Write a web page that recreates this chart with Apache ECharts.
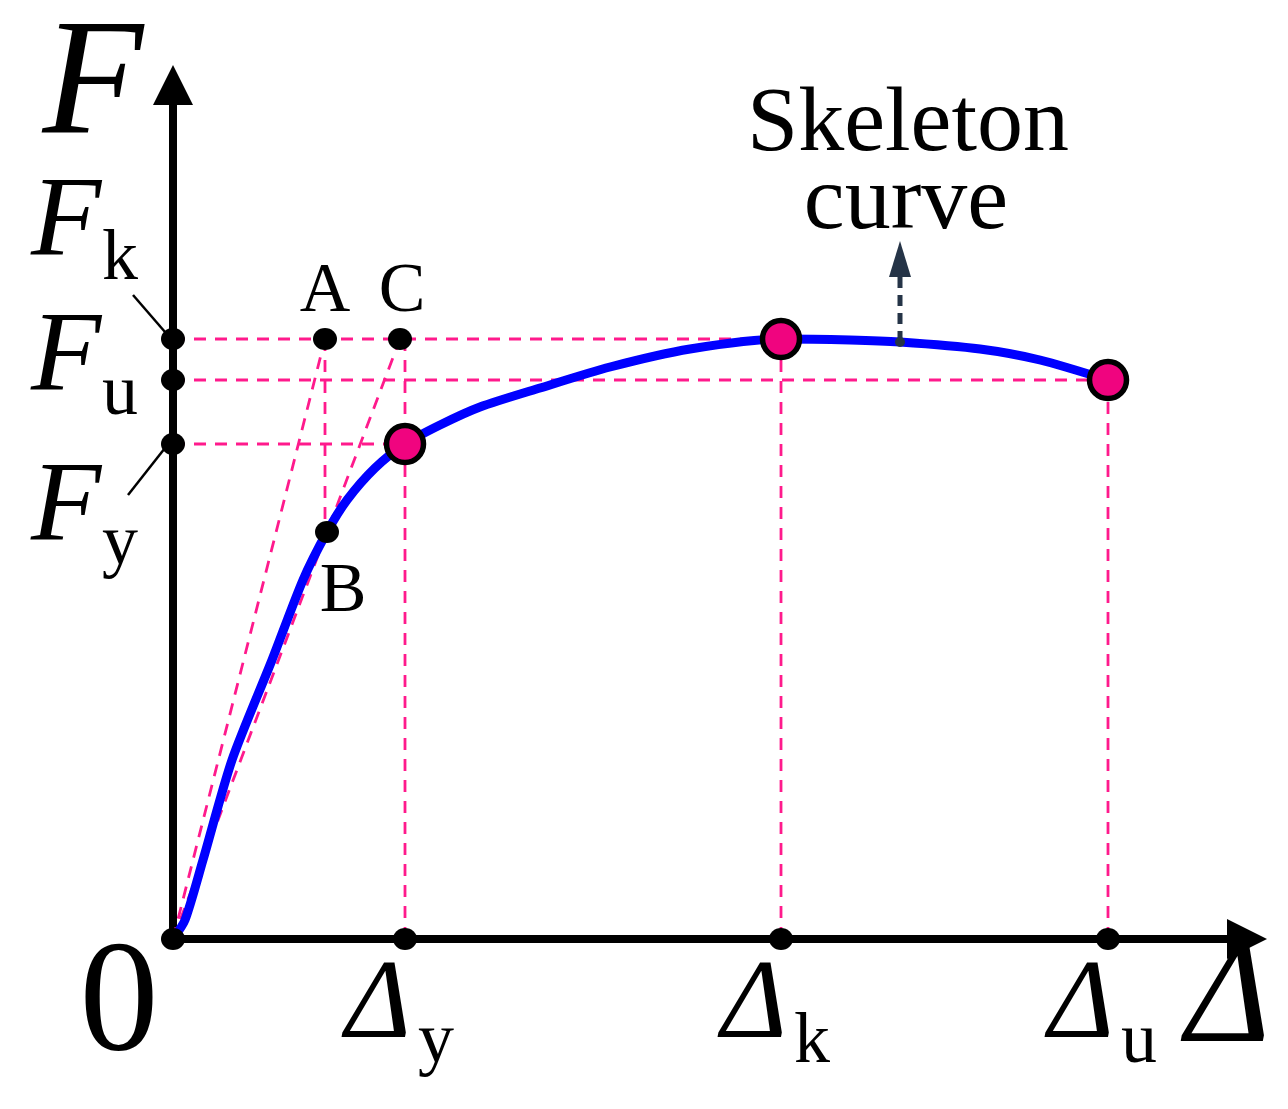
<!DOCTYPE html>
<html><head><meta charset="utf-8">
<script src="https://cdn.jsdelivr.net/npm/echarts@6/dist/echarts.min.js"></script>
<style>html,body{margin:0;padding:0;background:#fff}#c{width:1288px;height:1109px}</style>
</head><body><div id="c"></div>
<script>
// ---- data (schematic units) ----
const dispSubs   = ['y', 'k', 'u'];          // Δ subscripts
const dispValues = [232, 608, 935];          // Δy, Δk, Δu
const forceSubs  = ['k', 'u', 'y'];          // F subscripts
const forceValues = [600, 559, 495];         // Fk, Fu, Fy
const curveX = [0, 12, 30, 59, 99, 130, 154, 174, 202, 232, 267, 307, 367, 437, 517, 608, 677, 727, 807, 867, 935];
const curveY = [0, 19, 79, 179, 279, 359, 407, 439, 471, 495, 514, 532, 551, 572, 590, 600, 599, 597, 590, 579, 559];
const pointNames = ['A', 'C', 'B'];
const pointX = [152, 227, 154];
const pointY = [600, 600, 407];
const calloutText = ['Skeleton', 'curve'];
const calloutX = 727;
const calloutY = [597, 662, 680];

const Fk = forceValues[0], Fu = forceValues[1], Fy = forceValues[2];
const Dy = dispValues[0], Dk = dispValues[1], Du = dispValues[2];

const PINK = '#ff1a8c';
const SERIF = '"Liberation Serif", "Times New Roman", serif';

const chart = echarts.init(document.getElementById('c'), null, {renderer: 'canvas'});

const guides = [
  [[0, Fk], [Dk, Fk]],
  [[0, Fu], [Du, Fu]],
  [[0, Fy], [Dy, Fy]],
  [[Dy, 0], [Dy, Fk]],
  [[Dk, 0], [Dk, Fk]],
  [[Du, 0], [Du, Fu]],
  [[pointX[0], pointY[0]], [pointX[0], pointY[2]]],
  [[0, 0], [pointX[0], pointY[0]]],
  [[0, 0], [pointX[1], pointY[1]]]
];

const guideSeries = guides.map(g => ({
  type: 'line', data: g, symbol: 'none', silent: true, z: 2,
  lineStyle: {color: PINK, width: 2.8, type: [12, 9]}
}));

const curve = curveX.map((x, i) => [x, curveY[i]]);
const keyPts = [[Dy, Fy], [Dk, Fk], [Du, Fu]];
const blackDots = [[0, 0], [Dy, 0], [Dk, 0], [Du, 0], [0, Fk], [0, Fu], [0, Fy]]
  .concat(pointX.map((x, i) => [x, pointY[i]]));

chart.setOption({
  animation: false,
  backgroundColor: '#fff',
  grid: {left: 173, top: 85, right: 41, bottom: 170},
  xAxis: {
    type: 'value', min: 0, max: 1074,
    axisLine: {show: true, symbol: ['none', 'triangle'], symbolSize: [40, 40],
      lineStyle: {color: '#000', width: 8}},
    axisTick: {show: false}, axisLabel: {show: false}, splitLine: {show: false}
  },
  yAxis: {
    type: 'value', min: 0, max: 854,
    axisLine: {show: true, symbol: ['none', 'triangle'], symbolSize: [40, 40],
      lineStyle: {color: '#000', width: 8}},
    axisTick: {show: false}, axisLabel: {show: false}, splitLine: {show: false}
  },
  series: guideSeries.concat([
    {
      type: 'line', data: curve, symbol: 'none', smooth: 0.25, z: 3,
      lineStyle: {color: '#0000ff', width: 9, cap: 'round', join: 'round'}
    },
    {
      type: 'line', data: [[calloutX, calloutY[0]], [calloutX, calloutY[1]]], symbol: 'none', z: 4,
      lineStyle: {color: '#253447', width: 5, type: [11, 7]}
    },
    {
      type: 'scatter', data: [[calloutX, calloutY[2]]], symbol: 'triangle', symbolSize: [22, 36], z: 4,
      itemStyle: {color: '#253447', opacity: 1}
    },
    {
      type: 'scatter', data: [[calloutX, calloutY[0]]], symbol: 'circle', symbolSize: 10, z: 4,
      itemStyle: {color: '#253447', opacity: 1}
    },
    {
      type: 'scatter', data: keyPts, symbol: 'circle', symbolSize: 37, z: 5,
      itemStyle: {color: '#f0047f', borderColor: '#000', borderWidth: 5.5, opacity: 1}
    },
    {
      type: 'scatter', data: blackDots, symbol: 'circle', symbolSize: [24, 22], z: 6,
      itemStyle: {color: '#000', opacity: 1}
    }
  ])
});

const P = (x, y) => chart.convertToPixel({gridIndex: 0}, [x, y]);
function T(text, x, y, size, italic, align) {
  return {type: 'text', x: x, y: y, z: 100, silent: true,
    style: {text: text, fill: '#000', fontFamily: SERIF, fontSize: size,
      fontStyle: italic ? 'italic' : 'normal', align: align || 'center', verticalAlign: 'middle'}};
}
function L(x1, y1, x2, y2) {
  return {type: 'line', z: 100, silent: true, shape: {x1, y1, x2, y2}, style: {stroke: '#000', lineWidth: 2.5}};
}

const g = [];
const o = P(0, 0);
// axis titles
g.push(T('F', 93, 90, 165, true));
g.push(T('0', o[0] - 54, o[1] + 68, 158, false));
g.push(T('Δ', 1228, 1003, 145, true));
// F labels
const fOff = [-76, 18, 104];   // baseline offsets from the tick
forceValues.forEach((v, i) => {
  const p = P(0, v);
  const base = p[1] + fOff[i];
  g.push(T('F', 66, base - 38, 115, true));
  g.push(T(forceSubs[i], 120, base + 22 - 25, 72, false));
});
// leader lines
const pk = P(0, Fk), py = P(0, Fy);
g.push(L(133, pk[1] - 44, pk[0] - 8, pk[1] - 7));
g.push(L(128, py[1] + 51, py[0] - 8, py[1] + 4));
// Δ labels
dispValues.forEach((v, i) => {
  const p = P(v, 0);
  g.push(T('Δ', p[0] - 27, 1008, 112, true));
  g.push(T(dispSubs[i], p[0] + 31, 1043, 72, false));
});
// point labels
const pa = P(pointX[0], pointY[0]), pc = P(pointX[1], pointY[1]), pb = P(pointX[2], pointY[2]);
g.push(T(pointNames[0], pa[0], pa[1] - 46, 70, false));
g.push(T(pointNames[1], pc[0] + 2, pc[1] - 46, 70, false));
g.push(T(pointNames[2], pb[0] + 16, pb[1] + 61, 70, false));
// callout text
const ct = P(calloutX, calloutY[2]);
g.push(T(calloutText[0], ct[0] + 8, 126, 92, false));
g.push(T(calloutText[1], ct[0] + 6, 204, 92, false));

chart.setOption({graphic: g});
</script>
</body></html>
